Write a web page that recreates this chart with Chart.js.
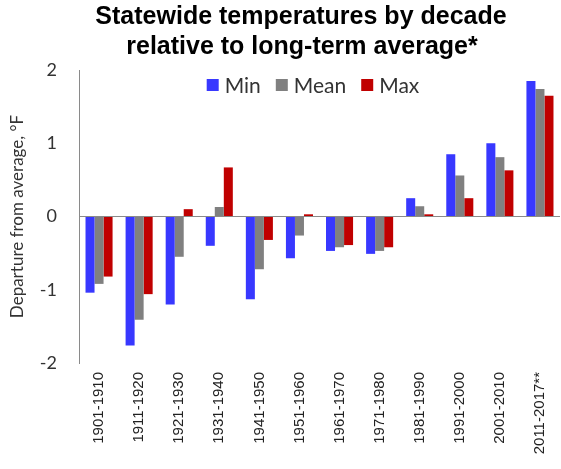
<!DOCTYPE html>
<html>
<head>
<meta charset="utf-8">
<script src="https://cdn.jsdelivr.net/npm/chart.js@4"></script>
<style>
  html, body { margin: 0; padding: 0; background: #fff; }
  #wrap { width: 561px; height: 469px; }
</style>
</head>
<body>
<div id="wrap"><canvas id="chart" width="561" height="469"></canvas></div>
<script>
// decades and departures from long-term average (deg F)
var decades = ['1901-1910', '1911-1920', '1921-1930', '1931-1940', '1941-1950', '1951-1960',
               '1961-1970', '1971-1980', '1981-1990', '1991-2000', '2001-2010', '2011-2017**'];
var minTemp  = [-1.04, -1.76, -1.20, -0.40, -1.13, -0.57, -0.47, -0.51, 0.25, 0.85, 1.00, 1.85];
var meanTemp = [-0.92, -1.41, -0.55,  0.13, -0.72, -0.26, -0.42, -0.47, 0.14, 0.56, 0.81, 1.74];
var maxTemp  = [-0.82, -1.06,  0.10,  0.67, -0.32,  0.03, -0.39, -0.42, 0.03, 0.25, 0.63, 1.65];
var yTicks = [-2, -1, 0, 1, 2];

var titleLines = ['Statewide temperatures by decade', 'relative to long-term average*'];
var yTitle = 'Departure from average, \u00b0F';

var sideFont = 'Lato, "Open Sans", sans-serif';

// title + legend drawn by hand so they sit where the original puts them
var overlay = {
    id: 'overlay',
    afterDraw: function(chart) {
        var c = chart.ctx;
        c.save();
        c.fillStyle = '#000';
        c.font = 'bold 25px "Liberation Sans", Arial, sans-serif';
        c.textAlign = 'center';
        c.textBaseline = 'alphabetic';
        c.fillText(titleLines[0], 301, 24);
        c.fillText(titleLines[1], 302, 54);

        // legend
        c.font = '21px ' + sideFont;
        c.textBaseline = 'middle';
        c.textAlign = 'left';
        var box = 12, gap = 6, spacing = 15;
        var sets = chart.data.datasets;
        var total = 0;
        sets.forEach(function(ds, i) {
            total += box + gap + c.measureText(ds.label).width + (i < sets.length - 1 ? spacing : 0);
        });
        var x = 313 - total / 2;
        var y = 85;
        sets.forEach(function(ds) {
            c.fillStyle = ds.backgroundColor;
            c.fillRect(x, y - box / 2, box, box);
            x += box + gap;
            c.fillStyle = '#333';
            c.fillText(ds.label, x, y + 1);
            x += c.measureText(ds.label).width + spacing;
        });
        c.restore();
    }
};

var ctx = document.getElementById('chart').getContext('2d');
var myChart = new Chart(ctx, {
    type: 'bar',
    data: {
        labels: decades,
        datasets: [
            { label: 'Min',  data: minTemp,  backgroundColor: 'rgb(56, 56, 255)' },
            { label: 'Mean', data: meanTemp, backgroundColor: 'rgb(128, 128, 128)' },
            { label: 'Max',  data: maxTemp,  backgroundColor: 'rgb(192, 0, 0)' }
        ]
    },
    options: {
        responsive: false,
        animation: false,
        layout: { padding: { top: 70, right: 1, bottom: 0, left: 0 } },
        datasets: {
            bar: { categoryPercentage: 0.675, barPercentage: 1.0 }
        },
        plugins: {
            legend: { display: false },
            title: { display: false },
            tooltip: { enabled: false }
        },
        scales: {
            x: {
                grid: { display: false },
                border: { display: false },
                ticks: {
                    color: '#222',
                    font: { family: '"Liberation Sans", Arial, sans-serif', size: 15 },
                    minRotation: 90,
                    maxRotation: 90,
                    padding: 1,
                    autoSkip: false
                },
                afterFit: function(scale) { scale.height = 106; }
            },
            y: {
                min: -2,
                max: 2,
                afterBuildTicks: function(scale) {
                    scale.ticks = yTicks.map(function(v) { return { value: v }; });
                },
                grid: {
                    drawTicks: false,
                    color: function(c) { return c.tick && c.tick.value === 0 ? '#8a8a8a' : 'rgba(0,0,0,0)'; }
                },
                border: { display: true, color: '#8a8a8a' },
                ticks: {
                    color: '#333',
                    font: { family: sideFont, size: 18 },
                    padding: 22
                },
                title: {
                    display: true,
                    text: yTitle,
                    color: '#333',
                    font: { family: sideFont, size: 17 },
                    padding: { top: 7, bottom: 0 }
                },
                afterFit: function(scale) { scale.width = 79; }
            }
        }
    },
    plugins: [overlay]
});
</script>
</body>
</html>
